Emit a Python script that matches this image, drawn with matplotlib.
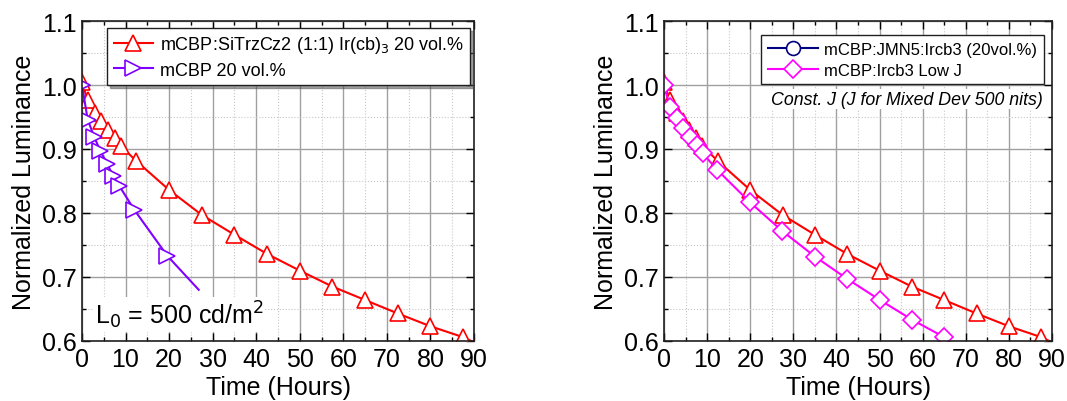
import matplotlib
matplotlib.use("Agg")
import matplotlib.pyplot as plt
from matplotlib.ticker import MultipleLocator

plt.rcParams['font.family'] = ['Liberation Sans', 'DejaVu Sans']

# Data
t_mixed = [0, 1.3, 3.0, 4.4, 5.9, 7.5, 8.9, 12.5, 20.0, 27.5, 35.0, 42.5, 50.0, 57.5, 65.0, 72.5, 80.0, 87.5, 90.0]
L_mixed = [1.005, 0.976, 0.957, 0.943, 0.929, 0.917, 0.905, 0.881, 0.836, 0.797, 0.766, 0.736, 0.710, 0.685, 0.664, 0.643, 0.623, 0.606, 0.598]

t_mcbp = [0, 1.3, 2.8, 4.2, 5.8, 7.1, 8.6, 12.0, 19.6, 26.8]
L_mcbp = [1.0, 0.946, 0.919, 0.897, 0.877, 0.858, 0.842, 0.805, 0.733, 0.680]

t_lowj = [0, 1.4, 2.9, 4.5, 6.0, 7.6, 9.0, 12.4, 19.9, 27.4, 35.0, 42.5, 50.1, 57.6, 65.0, 66.0]
L_lowj = [1.0, 0.965, 0.949, 0.933, 0.919, 0.906, 0.893, 0.867, 0.817, 0.772, 0.732, 0.697, 0.664, 0.633, 0.606, 0.600]

t_jmn5 = []
L_jmn5 = []

label_mixed = r'mCBP:SiTrzCz2 (1:1) Ir(cb)$_3$ 20 vol.%'
label_mcbp = 'mCBP 20 vol.%'
label_jmn5 = 'mCBP:JMN5:Ircb3 (20vol.%)'
label_lowj = 'mCBP:Ircb3 Low J'

RED = '#ff0000'
PURPLE = '#8000ff'
MAGENTA = '#ff00ff'
NAVY = '#000080'

W, H = 1067, 402
fig = plt.figure(figsize=(W / 100, H / 100), dpi=100)
ax1 = fig.add_axes([82 / W, 1 - 342 / H, (474 - 82) / W, (342 - 22) / H])
ax2 = fig.add_axes([664 / W, 1 - 342 / H, (1052 - 664) / W, (342 - 22) / H])


def style(ax):
    ax.set_xlim(0, 90)
    ax.set_ylim(0.6, 1.1)
    ax.xaxis.set_major_locator(MultipleLocator(10))
    ax.xaxis.set_minor_locator(MultipleLocator(5))
    ax.yaxis.set_major_locator(MultipleLocator(0.1))
    ax.yaxis.set_minor_locator(MultipleLocator(0.05))
    ax.yaxis.set_major_formatter(matplotlib.ticker.FormatStrFormatter('%.1f'))
    ax.grid(which='major', color='#a0a0a0', linewidth=1.0, linestyle='-')
    ax.grid(which='minor', color='#c8c8c8', linewidth=0.8, linestyle=':')
    ax.set_axisbelow(True)
    ax.tick_params(which='both', direction='in', top=True, right=True, labelsize=18, pad=4)
    ax.tick_params(which='major', length=6, width=1)
    ax.tick_params(which='minor', length=3, width=1)
    for s in ax.spines.values():
        s.set_color('#202020')
        s.set_linewidth(1.2)
    ax.set_xlabel('Time (Hours)', fontsize=18, labelpad=3)
    ax.set_ylabel('Normalized Luminance', fontsize=18, labelpad=4)


style(ax1)
style(ax2)

mk_idx = list(range(len(t_mixed) - 1))

ax1.plot(t_mixed, L_mixed, color=RED, lw=1.5, marker='^', ms=11, mfc='white', mec=RED,
         mew=1.2, markevery=mk_idx, label=label_mixed, clip_on=True)
ax1.plot(t_mcbp, L_mcbp, color=PURPLE, lw=1.5, marker='>', ms=11, mfc='white', mec=PURPLE,
         mew=1.2, markevery=list(range(len(t_mcbp) - 1)), label=label_mcbp)

leg1 = ax1.legend(loc='upper right', bbox_to_anchor=(0.99, 0.978), borderaxespad=0,
                  fontsize=13, frameon=True,
                  fancybox=False, shadow=True, edgecolor='#202020', framealpha=1,
                  handlelength=2.2, borderpad=0.35, labelspacing=0.35, handletextpad=0.35)
leg1.get_frame().set_linewidth(1.0)

ax1.text(3, 0.617, r'L$_0$ = 500 cd/m$^2$', fontsize=18, ha='left', va='bottom',
         bbox=dict(facecolor='white', edgecolor='none', pad=1))

ax2.plot(t_mixed, L_mixed, color=RED, lw=1.5, marker='^', ms=11, mfc='white', mec=RED,
         mew=1.2, markevery=mk_idx)
ax2.plot(t_jmn5, L_jmn5, color=NAVY, lw=1.5, marker='o', ms=10, mfc='white', mec=NAVY,
         mew=1.2, label=label_jmn5)
ax2.plot(t_lowj, L_lowj, color=MAGENTA, lw=1.5, marker='D', ms=9, mfc='white', mec=MAGENTA,
         mew=1.2, markevery=list(range(len(t_lowj) - 1)), label=label_lowj)

leg2 = ax2.legend(loc='upper right', bbox_to_anchor=(0.979, 0.956), borderaxespad=0,
                  fontsize=12, frameon=True,
                  fancybox=False, shadow=False, edgecolor='#202020', framealpha=1,
                  handlelength=3.0, borderpad=0.4, labelspacing=0.35, handletextpad=0.4)
leg2.get_frame().set_linewidth(1.0)

ax2.text(0.975, 0.755, 'Const. J (J for Mixed Dev 500 nits)', transform=ax2.transAxes,
         fontsize=12.8, style='italic', ha='right', va='center',
         bbox=dict(facecolor='white', edgecolor='none', pad=1))

fig.savefig('out.png', dpi=100)
